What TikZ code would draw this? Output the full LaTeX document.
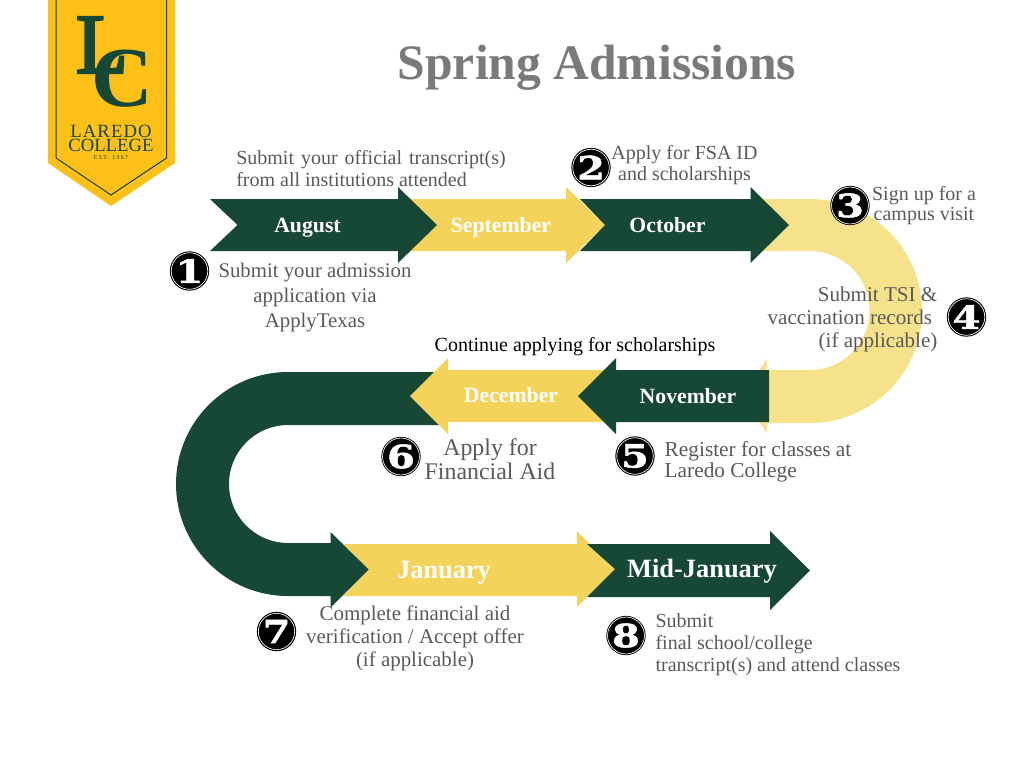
\documentclass[tikz,border=0pt]{standalone}
\usepackage{fontspec}
\setmainfont{Liberation Serif}
\newfontfamily\numfont[BoldFeatures={FakeStretch=1.25,FakeBold=1.5}]{DejaVu Serif}
\newfontfamily\logospaced[LetterSpace=6]{Liberation Serif}
\newfontfamily\logotiny[LetterSpace=22]{Liberation Serif}
\newfontfamily\logoheavy[FakeBold=3]{Liberation Serif}
\definecolor{lcgreen}{HTML}{174836}
\definecolor{lcyellow}{HTML}{F4D35A}
\definecolor{lcpale}{HTML}{F7E28C}
\definecolor{lcgold}{HTML}{FDC016}
\definecolor{lcgray}{HTML}{595959}
\definecolor{lctitle}{HTML}{7A7A7A}
\newcommand{\fs}[2]{\fontsize{#1}{#2}\selectfont}
\tikzset{
  note/.style={text=lcgray,inner sep=0pt,align=center,font=\fs{15}{16.5}},
  month/.style={text=white,inner sep=0pt,anchor=base,font=\bfseries\fs{16.3}{18}},
  bigmonth/.style={text=white,inner sep=0pt,anchor=base,font=\bfseries\fs{19.8}{22}},
  ringouter/.style={circle,fill=black,minimum size=29.5pt,inner sep=0pt},
  badge/.style={circle,fill=black,draw=white,line width=0.5pt,minimum size=27pt,inner sep=0pt,
     text=white,font=\numfont\bfseries\fs{24}{24}},
}
\newcommand{\numbadge}[3]{%
  \node[ringouter] (r#1) at (#2,#3) {};
  \node[badge] (b#1) at (#2,#3) {#1};}
\begin{document}
\begin{tikzpicture}[x=0.75pt,y=-0.75pt]
\useasboundingbox (0,0) rectangle (1024,768);
% banner
\fill[lcgold] (48,0) -- (175,0) -- (175,163) -- (111,206) -- (48,163) -- cycle;
\draw[lcgreen,line width=0.75pt] (56,0) -- (56,158) -- (111,195) -- (166.5,158) -- (166.5,0);
\node[text=lcgreen,inner sep=0pt,font=\logoheavy\fs{64}{64}] (logoL) at (102,45) {L};
\node[text=lcgreen,inner sep=0pt,font=\bfseries\fs{64}{64}] (logoC) at (122,79) {C};
\node[text=lcgreen,inner sep=0pt,align=center,font=\fs{14}{10.5}] (logoT) at (111,138.5) {{\logospaced LAREDO}\\COLLEGE};
\node[text=lcgreen,inner sep=0pt,font=\logotiny\fs{4.5}{5}] (logoE) at (111,157.5) {EST. 1967};
% title
\node[text=lctitle,inner sep=0pt,font=\bfseries\fs{37.2}{40}] (title) at (597,68) {Spring Admissions};
% pale U
\fill[lcpale] (750,199) -- (810,199) arc[start angle=-90,end angle=90,radius=112] -- (767,423)
  -- (767,433) -- (740,396) -- (767,359) -- (767,370) -- (810,370)
  arc[start angle=90,end angle=-90,radius=59.5] -- (750,251) -- cycle;
% dark U
\fill[lcgreen] (440,372) -- (288,372) arc[start angle=-90,end angle=-270,radius=112] -- (330.5,596)
  -- (330.5,607.5) -- (369,569.5) -- (330.5,532) -- (330.5,543) -- (288,543)
  arc[start angle=90,end angle=270,radius=59] -- (440,425) -- cycle;
% row 3
\fill[lcyellow] (343,544) -- (577,544) -- (577,531) -- (615,569) -- (577,607) -- (577,596) -- (343,596) -- (369,569.5) -- cycle;
\fill[lcgreen] (587,544) -- (770,544) -- (770,531) -- (810,570.5) -- (770,610) -- (770,597) -- (587,597) -- (615,569) -- cycle;
% row 2
\fill[lcyellow] (620,370) -- (448,370) -- (448,358) -- (410,396) -- (448,434) -- (448,422) -- (620,422) -- cycle;
\fill[lcgreen] (769,370) -- (616,370) -- (616,358) -- (578,396) -- (616,434) -- (616,422) -- (769,422) -- cycle;
% row 1
\fill[lcyellow] (410,199) -- (566,199) -- (566,187) -- (605,225) -- (566,263) -- (566,251) -- (410,251) -- (437,225) -- cycle;
\fill[lcgreen] (210,199) -- (398,199) -- (398,187) -- (437,225) -- (398,263) -- (398,251) -- (210,251) -- (237.5,225) -- cycle;
\fill[lcgreen] (580,199) -- (750.5,199) -- (750.5,187) -- (789,225) -- (750.5,263) -- (750.5,251) -- (580,251) -- (605,225) -- cycle;
% month labels
\node[month] (aug) at (307.5,232) {August};
\node[month] (sep) at (501,232) {September};
\node[month] (oct) at (667.5,232) {October};
\node[month] (nov) at (688,403) {November};
\node[month] (dec) at (511,402.5) {December};
\node[bigmonth] (jan) at (444,578) {January};
\node[bigmonth] (mid) at (702,577.5) {Mid-January};
% notes
\node[note,align=left] (n0) at (371,168.5) {Submit\hspace{5.25pt}your\hspace{5.25pt}official\hspace{5.25pt}transcript(s)\\from all institutions attended};
\node[note,font=\fs{15.6}{18.75}] (n1) at (315,298) {Submit your admission\\application via\\ApplyTexas};
\node[note,font=\fs{15}{15.75}] (n2) at (684.5,165.5) {Apply for FSA ID\\and scholarships};
\node[note,font=\fs{15}{15}] (n3) at (924,206) {Sign up for a\\campus visit};
\node[note,align=right,font=\fs{15.8}{17.25}] (n4) at (852.5,319) {Submit TSI \&\\vaccination records\mbox{\hspace{4pt}}\\(if applicable)};
\node[note,text=black] (n4b) at (575,347) {Continue applying for scholarships};
\node[note,align=left,font=\fs{16}{15.75}] (n5) at (758,462) {Register for classes at\\Laredo College};
\node[note,font=\fs{17.9}{18}] (n6) at (490,459) {Apply for\\Financial Aid};
\node[note,font=\fs{15.7}{17.25}] (n7) at (415,638.5) {Complete financial aid\\verification / Accept offer\\(if applicable)};
\node[note,align=left] (n8) at (778,645) {Submit\\final school/college\\transcript(s) and attend classes};
% badges
\numbadge{1}{189.5}{271}
\numbadge{2}{591}{167.5}
\numbadge{3}{850}{205.5}
\numbadge{4}{966.5}{317}
\numbadge{5}{635}{456}
\numbadge{6}{401}{456.5}
\numbadge{7}{276.5}{631.5}
\numbadge{8}{626}{635.5}
\end{tikzpicture}
\end{document}
